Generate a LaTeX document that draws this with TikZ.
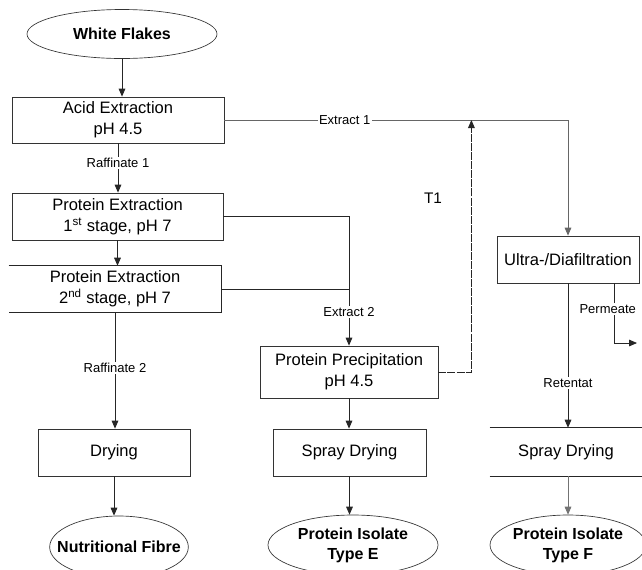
\documentclass[tikz,border=0pt]{standalone}
\usepackage{fontspec}
\setmainfont{Liberation Sans}
\usetikzlibrary{arrows.meta,shapes.geometric}
\begin{document}
\begin{tikzpicture}[x=0.75pt,y=-0.75pt,
  box/.style={rectangle, draw=black!80, line width=0.6pt, inner sep=0pt, align=center, font=\fontsize{12.4}{15.5}\selectfont},
  plain/.style={rectangle, inner sep=0pt, align=center, font=\fontsize{12.4}{15.5}\selectfont},
  term/.style={ellipse, draw=black!80, line width=0.5pt, inner sep=0pt, align=center, font=\bfseries\fontsize{12}{15}\selectfont},
  lbl/.style={fill=white, inner sep=1pt, font=\fontsize{9.75}{11}\selectfont},
  conn/.style={draw=black!85, line width=0.6pt},
  arr/.style={conn, -{Triangle[length=6pt,width=5pt]}},
]
\useasboundingbox (0,0) rectangle (642,569);
\clip (0,0) rectangle (642,569);
\fill[white] (0,0) rectangle (642,569);

% nodes
\node[term, minimum width=142.5pt, minimum height=36.75pt] (wf) at (122,34) {White Flakes};
\node[box, minimum width=159pt, minimum height=34.5pt] (acid) at (118,120) {Acid Extraction\\pH 4.5};
\node[box, minimum width=158.25pt, minimum height=35.25pt] (pe1) at (117.5,216.5) {Protein Extraction\\1\textsuperscript{st} stage, pH 7};
\node[plain, minimum width=159pt, minimum height=34.5pt] (pe2) at (115,289) {Protein Extraction\\2\textsuperscript{nd} stage, pH 7};
\draw[conn] (pe2.north west) -- (pe2.north east) -- (pe2.south east) -- (pe2.south west);
\node[box, minimum width=133.5pt, minimum height=39pt] (prec) at (349,372) {Protein Precipitation\\pH 4.5};
\node[box, minimum width=114pt, minimum height=35.25pt] (dry) at (114,452.5) {Drying};
\node[box, minimum width=114.75pt, minimum height=35.25pt] (spe) at (349.5,452.5) {Spray Drying};
\node[box, minimum width=106.5pt, minimum height=35.25pt] (uf) at (568,259.5) {Ultra-/Diafiltration};
\node[plain, minimum width=114pt, minimum height=36pt] (spf) at (566,452) {Spray Drying};
\draw[conn] (spf.north west) -- (spf.north east);
\draw[conn] (spf.south west) -- (spf.south east);
\node[term, minimum width=104pt, minimum height=46.5pt] (nf) at (119,547) {\makebox[0pt]{Nutritional Fibre}};
\node[term, minimum width=127.5pt, minimum height=45pt] (pie) at (353,545) {Protein Isolate\\Type E};
\node[term, minimum width=112.5pt, minimum height=45pt] (pif) at (568,545) {Protein Isolate\\Type F};
\node[font=\fontsize{11.5}{13}\selectfont] (t1l) at (433,198) {T1};

% connectors
\draw[arr] (wf.south) -- (wf.south |- acid.north);
\draw[arr, draw=black!60] (acid.east) -- node[lbl, pos=0.35] {Extract 1} (acid.east -| uf.north) -- (uf.north);
\draw[arr] (acid.south) -- node[lbl, pos=0.4] {Raffinate 1} (acid.south |- pe1.north);
\draw[arr] (pe1.south) -- (pe1.south |- pe2.north);
\draw[arr] (pe1.east) -- (pe1.east -| prec.north) -- node[lbl, pos=0.74] {Extract 2} (prec.north);
\draw[conn] (pe2.east) -- (pe2.east -| prec.north);
\draw[arr] (pe2.south) -- node[lbl, pos=0.48] {Raffinate 2} (pe2.south |- dry.north);
\draw[arr] (prec.south) -- (prec.south |- spe.north);
\draw[arr] (spe.south) -- (spe.south |- pie.north);
\draw[arr] (dry.south) -- (dry.south |- nf.north);
\draw[arr, dash pattern=on 6pt off 0.8pt] (prec.east) -- ++(33,0) coordinate (t1) -- (t1 |- acid.east);
\draw[arr] (uf.south) -- node[lbl, pos=0.69] {Retentat} (uf.south |- spf.north);
\coordinate (pend) at (637,343);
\draw[arr] ([xshift=-18.75pt]uf.south east) -- node[lbl, pos=0.43, xshift=-5pt] {Permeate} ([xshift=-18.75pt]uf.south east |- pend) -- (pend);
\draw[arr, draw=black!55] (pif.north |- spf.south) -- (pif.north);
\end{tikzpicture}
\end{document}
